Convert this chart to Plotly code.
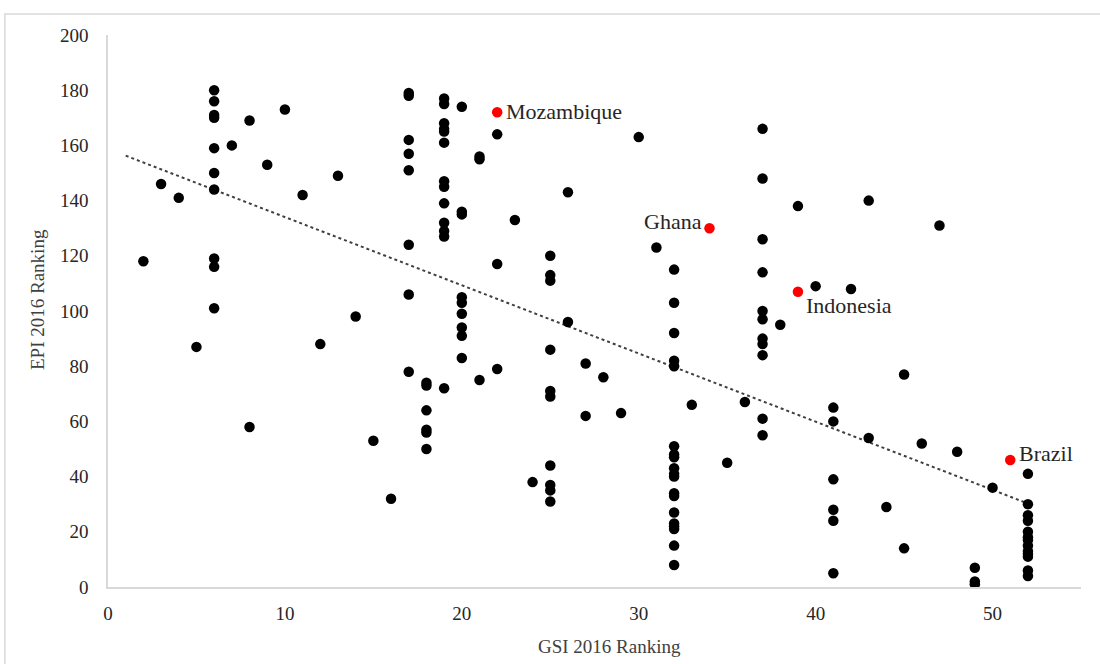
import numpy as np
import plotly.graph_objects as go

# GSI 2016 ranking (x) and EPI 2016 ranking (y) for each country
gsi_rank = [
    2, 3, 4, 5,
    6, 6, 6, 6, 6, 6, 6, 6, 6, 6,
    7, 8, 8, 9, 10, 11, 12, 13, 14, 15, 16,
    17, 17, 17, 17, 17, 17, 17, 17,
    18, 18, 18, 18, 18, 18,
    19, 19, 19, 19, 19, 19, 19, 19, 19, 19, 19, 19, 19,
    20, 20, 20, 20, 20, 20, 20, 20, 20,
    21, 21, 21,
    22, 22, 22,
    23, 24,
    25, 25, 25, 25, 25, 25, 25, 25, 25, 25,
    26, 26, 27, 27, 28, 29, 30, 31,
    32, 32, 32, 32, 32, 32, 32, 32, 32, 32, 32, 32, 32, 32, 32, 32, 32, 32, 32,
    33, 35, 36,
    37, 37, 37, 37, 37, 37, 37, 37, 37, 37, 37,
    38, 39, 40,
    41, 41, 41, 41, 41, 41,
    42, 43, 43, 44, 45, 45, 46, 47, 48,
    49, 49, 49, 50,
    52, 52, 52, 52, 52, 52, 52, 52, 52, 52, 52, 52, 52,
]
epi_rank = [
    118, 146, 141, 87,
    180, 176, 171, 170, 159, 150, 144, 119, 116, 101,
    160, 169, 58, 153, 173, 142, 88, 149, 98, 53, 32,
    179, 178, 162, 157, 151, 124, 106, 78,
    74, 73, 64, 57, 56, 50,
    177, 175, 168, 166, 165, 161, 147, 145, 139, 132, 129, 127, 72,
    174, 136, 135, 105, 103, 99, 94, 91, 83,
    156, 155, 75,
    164, 117, 79,
    133, 38,
    120, 113, 111, 86, 71, 69, 44, 37, 35, 31,
    143, 96, 81, 62, 76, 63, 163, 123,
    115, 103, 92, 82, 80, 51, 48, 47, 43, 41, 40, 34, 33, 27, 23, 22, 21, 15, 8,
    66, 45, 67,
    166, 148, 126, 114, 100, 97, 90, 88, 84, 61, 55,
    95, 138, 109,
    65, 60, 39, 28, 24, 5,
    108, 140, 54, 29, 77, 14, 52, 131, 49,
    7, 2, 1, 36,
    41, 30, 26, 24, 20, 18, 17, 15, 13, 12, 11, 6, 4,
]

# Highlighted countries
hl_names = ["Mozambique", "Ghana", "Indonesia", "Brazil"]
hl_gsi = [22, 34, 39, 51]
hl_epi = [172, 130, 107, 46]

x_ticks = [0, 10, 20, 30, 40, 50]
y_ticks = [0, 20, 40, 60, 80, 100, 120, 140, 160, 180, 200]

# Linear trend over all countries
all_x = np.array(gsi_rank + hl_gsi, dtype=float)
all_y = np.array(epi_rank + hl_epi, dtype=float)
slope, intercept = np.polyfit(all_x, all_y, 1)
trend_x = np.array([all_x.min() - 1, all_x.max()])
trend_y = slope * trend_x + intercept

FONT = "Liberation Serif, Times New Roman, serif"

fig = go.Figure()
fig.add_trace(go.Scatter(
    x=trend_x, y=trend_y, mode="lines",
    line=dict(color="#404040", width=2, dash="dot"),
    hoverinfo="skip", showlegend=False,
))
fig.add_trace(go.Scatter(
    x=gsi_rank, y=epi_rank, mode="markers",
    marker=dict(color="black", size=10.5),
    showlegend=False,
))
fig.add_trace(go.Scatter(
    x=hl_gsi, y=hl_epi, mode="markers",
    marker=dict(color="#ff0000", size=10.5),
    showlegend=False,
))

# Country labels beside the highlighted points
label_pos = {
    "Mozambique": dict(xanchor="left", xshift=7, yshift=1),
    "Ghana": dict(xanchor="right", xshift=-5, yshift=7),
    "Indonesia": dict(xanchor="left", xshift=6, yshift=-14),
    "Brazil": dict(xanchor="left", xshift=7, yshift=7),
}
for name, gx, gy in zip(hl_names, hl_gsi, hl_epi):
    p = label_pos[name]
    fig.add_annotation(
        x=gx, y=gy, text=name, showarrow=False,
        xanchor=p["xanchor"], yanchor="middle",
        xshift=p["xshift"], yshift=p["yshift"],
        font=dict(family=FONT, size=22, color="#262626"),
    )

# Axis titles
fig.add_annotation(
    x=(609 - 108) / 973, y=-0.108, xref="paper", yref="paper",
    text="GSI 2016 Ranking", showarrow=False,
    xanchor="center", yanchor="middle",
    font=dict(family=FONT, size=19, color="#404040"),
)
fig.add_annotation(
    x=(37 - 108) / 973, y=(587 - 300) / 552, xref="paper", yref="paper",
    text="EPI 2016 Ranking", showarrow=False, textangle=-90,
    xanchor="center", yanchor="middle",
    font=dict(family=FONT, size=19, color="#404040"),
)

# Chart-area frame
fig.add_shape(
    type="rect", xref="paper", yref="paper",
    x0=-0.106, x1=1.03, y0=-0.16, y1=1.038,
    line=dict(color="#d9d9d9", width=1.5), fillcolor="rgba(0,0,0,0)",
    layer="below",
)

fig.update_layout(
    width=1100, height=664,
    margin=dict(l=108, r=19, t=35, b=77),
    paper_bgcolor="white", plot_bgcolor="white",
    font=dict(family=FONT, size=19, color="#262626"),
    showlegend=False,
)
fig.update_xaxes(
    range=[0, 55], tickvals=x_ticks, showgrid=False, zeroline=False,
    showline=True, linecolor="#d9d9d9", linewidth=1.5, ticks="",
    ticklabelstandoff=8,
)
fig.update_yaxes(
    range=[0, 200], tickvals=y_ticks, showgrid=False, zeroline=False,
    showline=True, linecolor="#d9d9d9", linewidth=1.5, ticks="",
    ticklabelstandoff=14,
)

fig.write_html("out.html")
